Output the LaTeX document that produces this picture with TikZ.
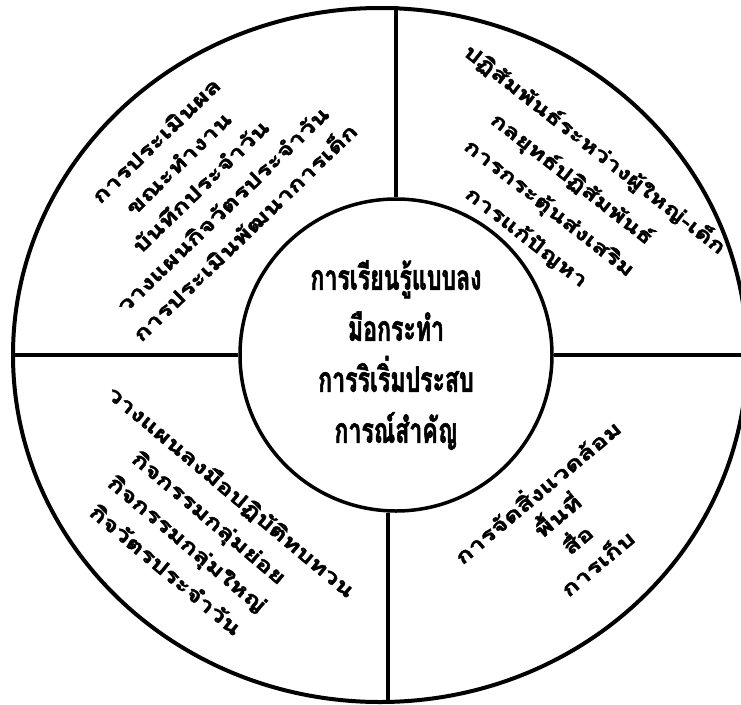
\documentclass[tikz,border=0pt]{standalone}
\usepackage{fontspec}
\newfontfamily\thaiwide[Script=Thai,FakeStretch=1.35,FakeBold=2]{Loma}
\newfontfamily\thaicond[Script=Thai,FakeStretch=0.66,FakeBold=1.5]{Loma}
\usetikzlibrary{shapes.geometric}
\tikzstyle{rim}=[
	ellipse,
	draw,
	line width=4pt,
	minimum width=734pt,
	minimum height=694pt
]
\tikzstyle{hub}=[
	circle,
	draw,
	line width=3.5pt,
	minimum size=312pt,
	align=center,
	font=\thaicond\bfseries\fontsize{35}{51}\selectfont
]
\tikzstyle{spoke}=[
	line width=3.5pt
]
\tikzstyle{sector}=[
	align=center,
	inner sep=0pt,
	font=\thaiwide\bfseries\fontsize{20}{34}\selectfont
]

\begin{document}
\begin{tikzpicture}[x=1pt,y=-1pt]
\clip (0,0) rectangle (741,704);
\node [rim] (rim) at (380,355) {};
\node [hub] (hub) at (396,355) {การเรียนรู้แบบลง\\มือกระทำ\\การริเริ่มประสบ\\การณ์สำคัญ};
% spokes
\draw [spoke] (hub.north) -- (hub.north |- rim.north);
\draw [spoke] (hub.west) -- (hub.west -| rim.west);
\draw [spoke] (hub.east) -- (hub.east -| rim.east);
\draw [spoke] (hub.-93) -- (hub.-93 |- rim.south);
% sectors
\node [sector, rotate=44, font=\thaiwide\bfseries\fontsize{20}{32}\selectfont] (evalTxt) at (200,186) {การประเมินผล\\ขณะทำงาน\\บันทึกประจำวัน\\วางแผนกิจวัตรประจำวัน\\การประเมินพัฒนาการเด็ก};
\node [sector, rotate=-38, font=\thaiwide\bfseries\fontsize{19.5}{37}\selectfont] (interactTxt) at (561,193) {ปฏิสัมพันธ์ระหว่างผู้ใหญ่-เด็ก\\กลยุทธ์ปฏิสัมพันธ์\\การกระตุ้นส่งเสริม\\การแก้ปัญหา};
\node [sector, rotate=-40] (planTxt) at (199,530) {วางแผนลงมือปฏิบัติทบทวน\\กิจกรรมกลุ่มย่อย\\กิจกรรมกลุ่มใหญ่\\กิจวัตรประจำวัน};
\node [sector, rotate=40, font=\thaiwide\bfseries\fontsize{20}{31}\selectfont] (envTxt) at (566,526) {การจัดสิ่งแวดล้อม\\พื้นที่\\สื่อ\\การเก็บ};
\end{tikzpicture}
\end{document}
